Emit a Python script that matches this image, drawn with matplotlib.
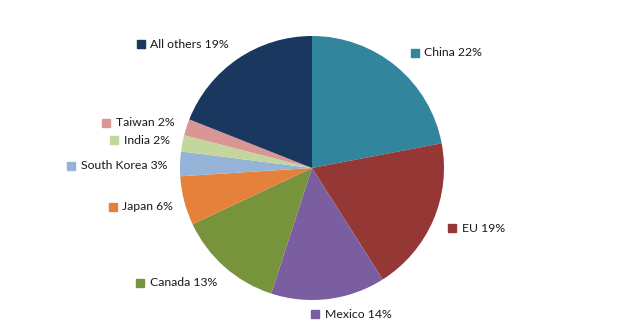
import matplotlib.pyplot as plt

# Shares by trading partner (percent)
partners = ["China", "EU", "Mexico", "Canada", "Japan",
            "South Korea", "India", "Taiwan", "All others"]
shares = [22, 19, 14, 13, 6, 3, 2, 2, 19]
colors = ["#31859C", "#953735", "#7B5EA0", "#77933C", "#E5813A",
          "#95B3D7", "#C3D69B", "#D99694", "#19375F"]

# label anchor (marker centre) in pixels of the 624x336 canvas
label_px = [(414.5, 52.5), (452, 228), (315, 314), (140, 282.5), (112.5, 207),
            (71, 165.5), (114, 140), (106, 123), (140.5, 44)]

W, H = 624, 336
cx, cy, r = 312, 168, 132

fig = plt.figure(figsize=(W / 100, H / 100), dpi=100)
ax = fig.add_axes([(cx - r) / W, (H - cy - r) / H, 2 * r / W, 2 * r / H])

ax.pie(shares, colors=colors, startangle=90, counterclock=False,
       wedgeprops=dict(linewidth=0))
ax.set_xlim(-1, 1)
ax.set_ylim(-1, 1)
ax.set_aspect("equal")
ax.axis("off")

for name, val, col, (px, py) in zip(partners, shares, colors, label_px):
    x = (px - cx) / r
    y = (cy - py) / r
    ax.plot([x], [y], marker="s", markersize=5.2, color=col, clip_on=False)
    ax.text(x + 10 / r, y, f"{name} {val}%", fontsize=8.8, family="Lato",
            color="#1a1a1a", va="center", ha="left")

fig.savefig("out.png", dpi=100)
